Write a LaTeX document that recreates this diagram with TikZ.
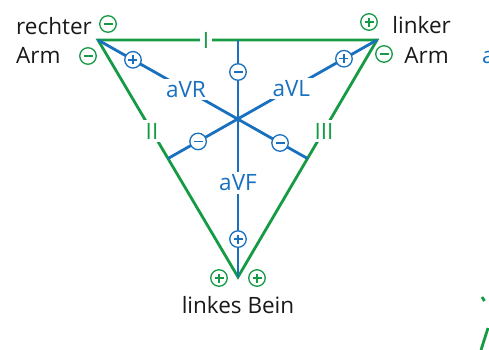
\documentclass[tikz,border=0pt]{standalone}
\usepackage{fontspec}
\setmainfont{Open Sans}
\definecolor{egreen}{RGB}{22,155,68}
\definecolor{eblue}{RGB}{24,112,190}
\definecolor{etext}{RGB}{25,25,25}
\begin{document}
\begin{tikzpicture}[x=1pt,y=-1pt,
  lead/.style={egreen,line width=2.8pt},
  axisline/.style={eblue,line width=2.8pt},
  lbl/.style={font=\fontsize{22.5}{27}\selectfont,text=etext,inner sep=0pt},
  leadlbl/.style={font=\fontsize{22.5}{27}\selectfont,text=egreen,fill=white,inner sep=2.5pt},
  axlbl/.style={font=\fontsize{22.5}{27}\selectfont,text=eblue,fill=white,inner sep=2.5pt},
  gcirc/.style={circle,draw=egreen,line width=1.3pt,fill=white,minimum size=16.5pt,inner sep=0pt},
  bcirc/.style={circle,draw=eblue,line width=1.3pt,fill=white,minimum size=16.5pt,inner sep=0pt},
  gplus/.style={gcirc,path picture={
    \draw[egreen,line width=1.5pt] ([xshift=-4.5pt]path picture bounding box.center) -- ([xshift=4.5pt]path picture bounding box.center)
      ([yshift=-4.5pt]path picture bounding box.center) -- ([yshift=4.5pt]path picture bounding box.center);}},
  gminus/.style={gcirc,path picture={
    \draw[egreen,line width=1.5pt] ([xshift=-4.5pt]path picture bounding box.center) -- ([xshift=4.5pt]path picture bounding box.center);}},
  bplus/.style={bcirc,path picture={
    \draw[eblue,line width=1.5pt] ([xshift=-4.5pt]path picture bounding box.center) -- ([xshift=4.5pt]path picture bounding box.center)
      ([yshift=-4.5pt]path picture bounding box.center) -- ([yshift=4.5pt]path picture bounding box.center);}},
  bminus/.style={bcirc,path picture={
    \draw[eblue,line width=1.5pt] ([xshift=-4.5pt]path picture bounding box.center) -- ([xshift=4.5pt]path picture bounding box.center);}}
]
\useasboundingbox (0,0) rectangle (489,349);
\fill[white] (0,0) rectangle (489,349);

% vertices and midpoints
\coordinate (RA) at (98,40);
\coordinate (LA) at (377,40);
\coordinate (LL) at (238,277);
\coordinate (mI) at (238,40);
\coordinate (mII) at (168,158.5);
\coordinate (mIII) at (307.5,158.5);

% Einthoven triangle
\draw[lead,line join=miter] (RA) -- (LA) -- (LL) -- cycle;

% augmented axes
\draw[axisline] (RA) -- (mIII);
\draw[axisline] (LA) -- (mII);
\draw[axisline] (mI) -- (LL);

% lead labels
\node[leadlbl] (lI) at (206,40) {I};
\node[leadlbl] (lII) at (152,131) {II};
\node[leadlbl] (lIII) at (324,131) {III};

% axis labels and polarity circles
\path (RA) -- (mIII)
  node[bplus,pos=0.167] (aVRp) {}
  node[axlbl,pos=0.42] (aVR) {aVR}
  node[bminus,pos=0.869] (aVRm) {};
\path (LA) -- (mII)
  node[bplus,pos=0.158] (aVLp) {}
  node[axlbl,pos=0.41] (aVL) {aVL}
  node[bminus,pos=0.856] (aVLm) {};
\path (mI) -- (LL)
  node[bminus,pos=0.135] (aVFm) {}
  node[axlbl,pos=0.603] (aVF) {aVF}
  node[bplus,pos=0.84] (aVFp) {};

% green polarity circles at the limbs
\node[gminus] (raI) at (108,24) {};
\node[gminus] (raII) at (88,56) {};
\node[gplus] (laI) at (369,22) {};
\node[gminus] (laIII) at (384,54) {};
\node[gplus] (llII) at (219,278) {};
\node[gplus] (llIII) at (257,278) {};

% limb labels
\node[lbl,anchor=base west] (t1) at (16,34) {rechter};
\node[lbl,anchor=base west] (t2) at (16,63) {Arm};
\node[lbl,anchor=base east] (t3) at (451,33) {linker};
\node[lbl,anchor=base east] (t4) at (449,63) {Arm};
\node[lbl,anchor=base] (t5) at (238,313) {linkes Bein};

% fragments of the neighbouring figure
\node[font=\fontsize{22.5}{27}\selectfont,text=eblue,inner sep=0pt,anchor=base west] (frag) at (482,63) {a};
\coordinate (f1) at (481,350);
\coordinate (f2) at (488,328);
\coordinate (f3) at (482,297);
\coordinate (f4) at (484.5,301);
\draw[lead] (f1) -- (f2);
\draw[lead] (f3) -- (f4);
\end{tikzpicture}
\end{document}
